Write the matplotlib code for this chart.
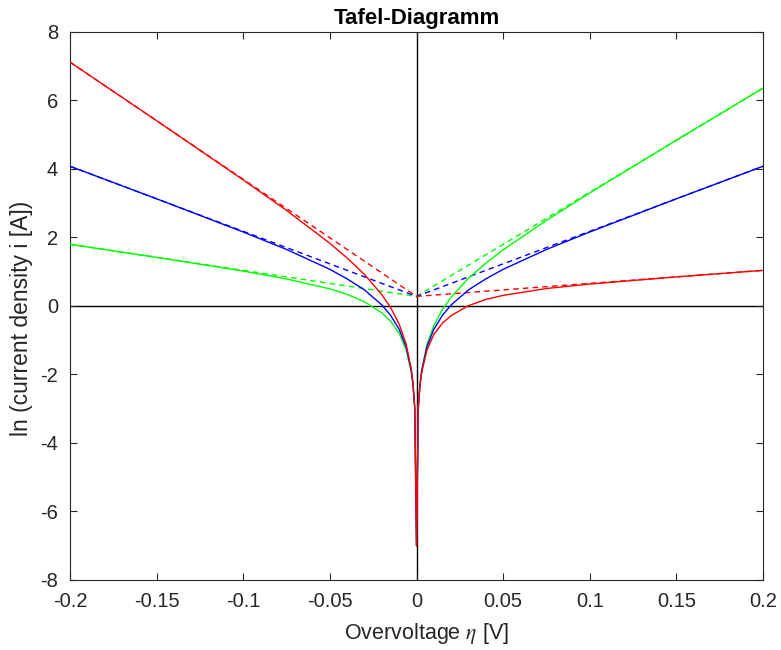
import matplotlib
matplotlib.use("Agg")
import matplotlib.pyplot as plt
import numpy as np

# Overvoltage sample points (V)
eta = [-0.2, -0.15, -0.1, -0.075, -0.05, -0.04, -0.03, -0.02, -0.015, -0.01,
       -0.006, -0.003, -0.002, -0.001, 0.0,
       0.001, 0.002, 0.003, 0.006, 0.01, 0.015, 0.02, 0.03, 0.04, 0.05,
       0.075, 0.1, 0.15, 0.2]

# ln|i| of the full curves (solid)
red_full = [7.12, 5.41, 3.68, 2.79, 1.83, 1.40, 0.92, 0.33, -0.04, -0.53,
            -1.11, -1.85, -2.27, -2.98, -7.0,
            -3.01, -2.33, -1.94, -1.29, -0.83, -0.50, -0.28, 0.01, 0.19, 0.31,
            0.51, 0.64, 0.85, 1.04]
blue_full = [4.08, 3.13, 2.16, 1.65, 1.07, 0.79, 0.47, 0.03, -0.27, -0.68,
             -1.20, -1.89, -2.30, -2.99, -7.0,
             -2.99, -2.30, -1.89, -1.20, -0.68, -0.27, 0.03, 0.47, 0.79, 1.07,
             1.65, 2.16, 3.13, 4.08]
green_full = [1.80, 1.42, 1.02, 0.79, 0.50, 0.34, 0.12, -0.20, -0.44, -0.80,
              -1.27, -1.93, -2.32, -3.00, -7.0,
              -2.98, -2.27, -1.86, -1.13, -0.57, -0.10, 0.26, 0.81, 1.25, 1.64,
              2.50, 3.30, 4.84, 6.36]

# Tafel asymptotes (dashed): points at -0.2, 0, 0.2
eta_tafel = [-0.2, 0.0, 0.2]
red_tafel = [7.12, 0.28, 1.04]
blue_tafel = [4.08, 0.28, 4.08]
green_tafel = [1.80, 0.28, 6.36]

xticks = [-0.2, -0.15, -0.1, -0.05, 0, 0.05, 0.1, 0.15, 0.2]
xticklabels = ["-0.2", "-0.15", "-0.1", "-0.05", "0", "0.05", "0.1", "0.15", "0.2"]
yticks = [-8, -6, -4, -2, 0, 2, 4, 6, 8]
yticklabels = ["-8", "-6", "-4", "-2", "0", "2", "4", "6", "8"]

plt.rcParams['font.family'] = ['Liberation Sans', 'DejaVu Sans']
plt.rcParams['mathtext.fontset'] = 'stix'
plt.rcParams['axes.unicode_minus'] = False

fig = plt.figure(figsize=(7.81, 6.5), dpi=100)
ax = fig.add_axes([0.0896, 0.1077, 0.8874, 0.8431])

RED, BLUE, GREEN = '#ff0000', '#0000ff', '#00ff00'
TXT = '#262626'

# zero lines
ax.axhline(0, color='black', lw=1.0, zorder=1)
ax.axvline(0, color='black', lw=1.0, zorder=1)

ax.plot(eta_tafel, green_tafel, color=GREEN, lw=1.0, ls=(0, (4, 3)), zorder=2)
ax.plot(eta_tafel, blue_tafel, color=BLUE, lw=1.0, ls=(0, (4, 3)), zorder=2)
ax.plot(eta_tafel, red_tafel, color=RED, lw=1.0, ls=(0, (4, 3)), zorder=2)

ax.plot(eta, green_full, color=GREEN, lw=1.0, zorder=3)
ax.plot(eta, blue_full, color=BLUE, lw=1.0, zorder=3)
ax.plot(eta, red_full, color=RED, lw=1.0, zorder=3)

ax.set_xlim(-0.2, 0.2)
ax.set_ylim(-8, 8)
ax.set_xticks(xticks)
ax.set_xticklabels(xticklabels)
ax.set_yticks(yticks)
ax.set_yticklabels(yticklabels)
ax.tick_params(direction='in', top=True, right=True, length=5, width=0.8,
               labelsize=14.5, colors=TXT)
ax.tick_params(axis='x', pad=9)
ax.tick_params(axis='y', pad=8.5)
for s in ax.spines.values():
    s.set_color(TXT)
    s.set_linewidth(0.8)

ax.set_title('Tafel-Diagramm', fontsize=16, fontweight='bold', pad=6)
ax.set_xlabel(r'Overvoltage $\eta$ [V]', fontsize=15.5, color=TXT)
ax.xaxis.set_label_coords(0.5137, -0.074)
ax.set_ylabel('ln (current density i [A])', fontsize=16.5, color=TXT)
ax.yaxis.set_label_coords(-0.053, 0.478)

fig.savefig('out.png', dpi=100)
